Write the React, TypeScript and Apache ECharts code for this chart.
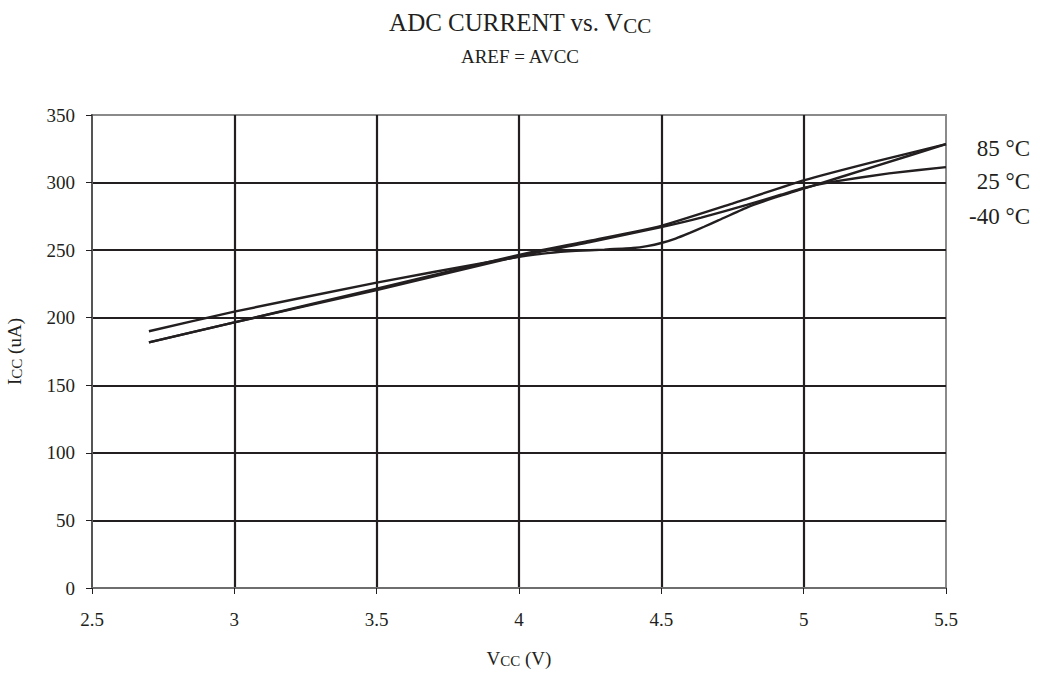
import React, { useEffect, useRef } from "react";
import * as echarts from "echarts";

const xTicks = [2.5, 3, 3.5, 4, 4.5, 5, 5.5];
const tempLabels = ["85 °C", "25 °C", "-40 °C"];

// Vcc (V), Icc (uA)
const vcc85 = [2.7, 3.0, 3.5, 4.0, 4.25, 4.5, 4.75, 5.0, 5.25, 5.5];
const icc85 = [181.8, 196.6, 221.5, 246.5, 257.0, 268.0, 284.5, 301.6, 315.5, 328.4];

const vcc25 = [2.7, 3.0, 3.5, 3.9, 4.0, 4.1, 4.2, 4.3, 4.4, 4.45, 4.5, 4.55, 4.6, 4.65, 4.7, 4.8, 4.9, 5.0, 5.25, 5.5];
const icc25 = [190.0, 204.5, 226.0, 241.5, 245.0, 247.8, 249.5, 250.4, 251.6, 253.0, 255.3, 258.6, 262.8, 267.3, 272.0, 281.5, 289.0, 295.5, 312.0, 328.4];

const vccM40 = [2.7, 3.0, 3.5, 4.0, 4.25, 4.5, 4.64, 4.8, 4.92, 5.0, 5.1, 5.3, 5.5];
const iccM40 = [181.8, 196.6, 220.5, 245.5, 256.0, 267.0, 274.0, 283.5, 291.0, 296.0, 300.5, 306.8, 311.4];

const pairs = (xs: number[], ys: number[]) => xs.map((x, i) => [x, ys[i]]);

const FONT = "Liberation Serif";
const INK = "#231f20";

export default function App() {
  const ref = useRef<HTMLDivElement>(null);
  useEffect(() => {
    if (!ref.current) return;
    const chart = echarts.init(ref.current, null, { renderer: "svg" });
    const lineStyle = { color: INK, width: 2.4 };
    const mk = (name: string, data: number[][]) => ({
      name,
      type: "line",
      data,
      showSymbol: false,
      smooth: 0.15,
      lineStyle,
      itemStyle: { color: INK },
    });
    const tempText = (i: number, top: number) => ({
      type: "text",
      right: 10,
      top,
      style: { text: tempLabels[i], font: `23px "${FONT}"`, fill: INK },
    });
    chart.setOption({
      animation: false,
      backgroundColor: "#ffffff",
      textStyle: { fontFamily: FONT },
      title: [
        {
          text: "{a|ADC CURRENT vs. V}{b|CC}",
          left: "center",
          top: 2,
          textStyle: {
            rich: {
              a: { fontFamily: FONT, fontSize: 25, fontWeight: "normal", color: INK, lineHeight: 30 },
              b: { fontFamily: FONT, fontSize: 21, fontWeight: "normal", color: INK, lineHeight: 30, padding: [8, 0, 0, 0] },
            },
          },
        },
        {
          text: "AREF = AVCC",
          left: "center",
          top: 42,
          textStyle: { fontFamily: FONT, fontSize: 19, fontWeight: "normal", color: INK },
        },
      ],
      grid: {
        left: 92,
        top: 115,
        right: 94,
        bottom: 90,
        outerBoundsMode: "none",
        containLabel: false,
        show: true,
        borderColor: "#8a8a8a",
        borderWidth: 2,
        backgroundColor: "transparent",
      },
      xAxis: {
        type: "value",
        min: 2.5,
        max: 5.5,
        interval: 0.5,
        name: "{a|V}{b|CC}{a| (V)}",
        nameLocation: "middle",
        nameGap: 60,
        nameTextStyle: {
          rich: {
            a: { fontFamily: FONT, fontSize: 19, color: INK },
            b: { fontFamily: FONT, fontSize: 15, color: INK, padding: [5, 0, 0, 0] },
          },
        },
        axisLine: { show: true, onZero: false, lineStyle: { color: "#6e6e6e", width: 2 } },
        axisTick: { show: true, length: 6, lineStyle: { color: INK, width: 1 } },
        axisLabel: {
          fontFamily: FONT,
          fontSize: 19,
          color: INK,
          margin: 22,
          formatter: (v: number) => (xTicks.includes(v) ? String(v) : ""),
        },
        splitLine: { show: true, showMinLine: false, showMaxLine: false, lineStyle: { color: INK, width: 2.2 } },
      },
      yAxis: {
        type: "value",
        min: 0,
        max: 350,
        interval: 50,
        name: "{a|I}{b|CC}{a| (uA)}",
        nameLocation: "middle",
        nameGap: 68,
        nameRotate: 90,
        nameTextStyle: {
          rich: {
            a: { fontFamily: FONT, fontSize: 19, color: INK },
            b: { fontFamily: FONT, fontSize: 15, color: INK, padding: [5, 0, 0, 0] },
          },
        },
        axisLine: { show: true, lineStyle: { color: "#555555", width: 2 } },
        axisTick: { show: true, length: 6, lineStyle: { color: INK, width: 1 } },
        axisLabel: { fontFamily: FONT, fontSize: 19, color: INK, margin: 17 },
        splitLine: { show: true, showMinLine: false, showMaxLine: false, lineStyle: { color: INK, width: 2.2 } },
      },
      graphic: [tempText(0, 137), tempText(1, 170), tempText(2, 205)],
      series: [
        mk("85 °C", pairs(vcc85, icc85)),
        mk("25 °C", pairs(vcc25, icc25)),
        mk("-40 °C", pairs(vccM40, iccM40)),
      ],
    });
    return () => chart.dispose();
  }, []);
  return (
    <div
      ref={ref}
      style={{ position: "fixed", left: 0, top: 0, width: 1040, height: 678, background: "#fff" }}
    />
  );
}
